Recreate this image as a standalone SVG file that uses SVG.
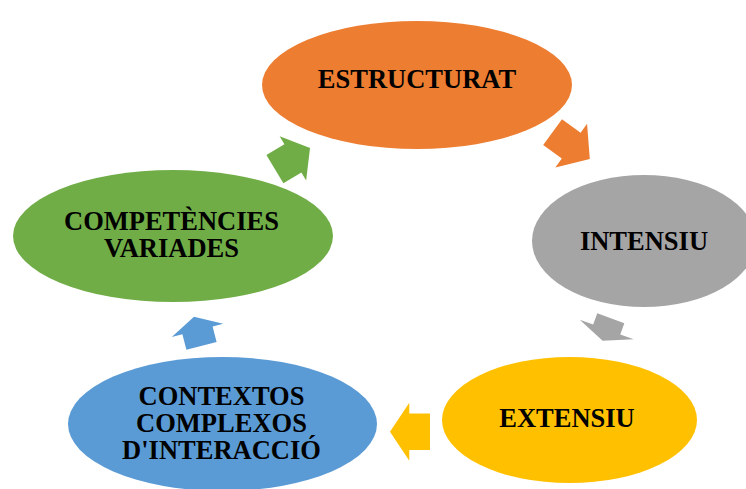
<svg xmlns="http://www.w3.org/2000/svg" width="746" height="489" viewBox="0 0 746 489">
<style>
.lbl{font-family:"Liberation Serif","Times New Roman",serif;font-weight:bold;font-size:26.5px;fill:#000;text-anchor:middle}
</style>
<rect width="746" height="489" fill="#fff"/>
<g id="node-estructurat"><ellipse cx="417" cy="85" rx="155" ry="64" fill="#ED7D31"/><text class="lbl" x="417" y="88">ESTRUCTURAT</text></g>
<g id="node-intensiu"><ellipse cx="644" cy="241" rx="112" ry="66" fill="#A5A5A5"/><text class="lbl" x="644" y="250">INTENSIU</text></g>
<g id="node-extensiu"><ellipse cx="569.5" cy="420" rx="127.5" ry="63" fill="#FFC000"/><text class="lbl" x="567" y="427">EXTENSIU</text></g>
<g id="node-contextos"><ellipse cx="222.5" cy="424" rx="154.5" ry="67" fill="#5B9BD5"/><text class="lbl" x="221.5" y="405">CONTEXTOS<tspan x="221.5" dy="27">COMPLEXOS</tspan><tspan x="221.5" dy="27">D'INTERACCIÓ</tspan></text></g>
<g id="node-competencies"><ellipse cx="173" cy="236" rx="160" ry="66" fill="#70AD47"/><text class="lbl" x="171.5" y="230">COMPETÈNCIES<tspan x="171.5" dy="27">VARIADES</tspan></text></g>
<g id="connectors">
<polygon fill="#ED7D31" transform="translate(571.2,145.6) rotate(36)" points="-23,-16 0,-16 0,-27 23,0 0,27 0,16 -23,16"/>
<polygon fill="#A5A5A5" transform="translate(606.7,329.5) rotate(110)" points="-12,-14.4 0,-14.4 0,-28.7 12,0 0,28.7 0,14.4 -12,14.4"/>
<polygon fill="#FFC000" transform="translate(409.3,431.7) rotate(180)" points="-20.7,-18.3 0,-18.3 0,-29 19.3,0 0,29 0,18.3 -20.7,18.3"/>
<polygon fill="#5B9BD5" transform="translate(197.5,330.4) rotate(-104.5)" points="-16,-15.6 0,-15.6 0,-26.6 14,0 0,26.6 0,15.6 -16,15.6"/>
<polygon fill="#70AD47" transform="translate(292.9,158.4) rotate(-31)" points="-21,-16.5 0,-16.5 0,-25.7 20,0 0,25.7 0,16.5 -21,16.5"/>
</g>
</svg>
